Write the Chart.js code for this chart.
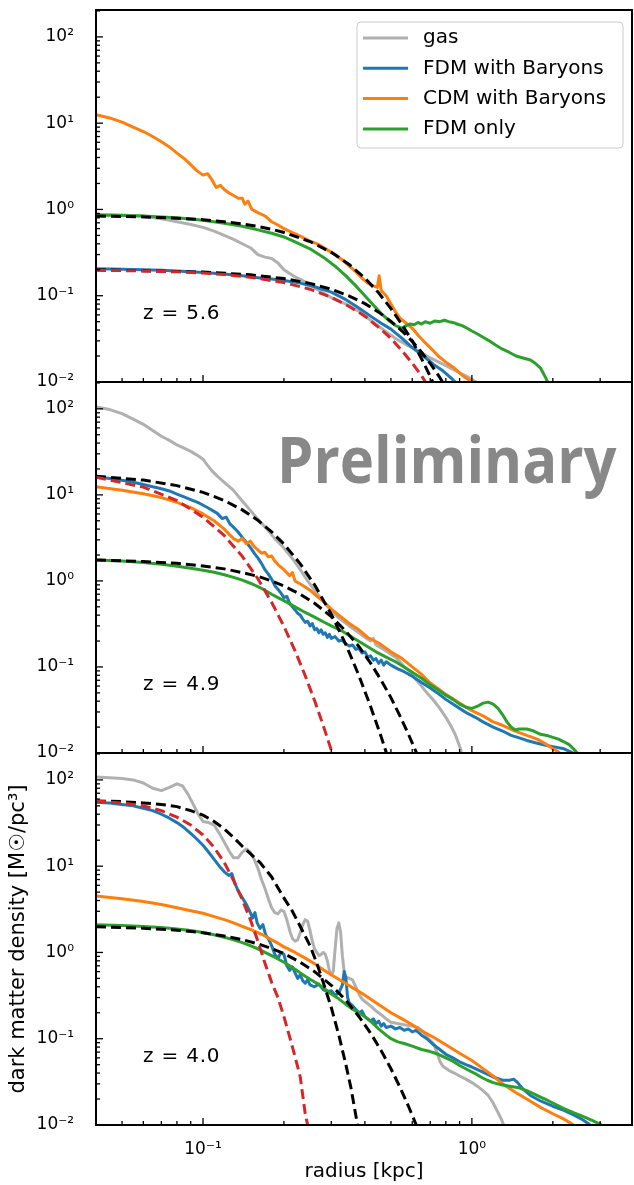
<!DOCTYPE html>
<html lang="en">
<head>
<meta charset="UTF-8">
<title>Dark matter density profiles</title>
<script src="https://cdn.jsdelivr.net/npm/chart.js"></script>
<style>
  html, body { margin: 0; padding: 0; background: #fff; }
  .wrap { position: relative; width: 634px; height: 1185px; overflow: hidden; }
  .wrap canvas { position: absolute; left: 0; }
</style>
</head>
<body>
<div class="wrap">
  <canvas id="p1" width="634" height="392" style="top:0;width:634px;height:392px"></canvas>
  <canvas id="p2" width="634" height="391" style="top:372px;width:634px;height:391px"></canvas>
  <canvas id="p3" width="634" height="442" style="top:743px;width:634px;height:442px"></canvas>
</div>
<script>
// labels and ticks
const seriesLabels = ['gas', 'FDM with Baryons', 'CDM with Baryons', 'FDM only'];
const redshifts = ['z = 5.6', 'z = 4.9', 'z = 4.0'];
const yTickValues = [0.01, 0.1, 1, 10, 100];
const yTickLabels = ['10⁻²', '10⁻¹', '10⁰', '10¹', '10²'];
const xTickValues = [0.1, 1];
const xTickLabels = ['10⁻¹', '10⁰'];

// ---- z = 5.6 : [radius kpc, density]
const gas56 = [[0.04,0.87],[0.05,0.86],[0.06,0.84],[0.07,0.78],[0.08,0.72],[0.09,0.67],[0.1,0.62],[0.11,0.56],[0.12,0.5],[0.13,0.45],[0.14,0.4],[0.15,0.36],[0.16,0.3],[0.17,0.28],[0.18,0.27],[0.19,0.24],[0.2,0.2],[0.22,0.165],[0.24,0.145],[0.27,0.115],[0.3,0.095],[0.34,0.08],[0.38,0.066],[0.42,0.052],[0.47,0.04],[0.52,0.032],[0.57,0.027],[0.62,0.024],[0.7,0.019],[0.8,0.0155],[0.9,0.0128],[1.0,0.0108],[1.06,0.0095]];
const fdmb56 = [[0.04,0.205],[0.05,0.203],[0.06,0.2],[0.07,0.197],[0.08,0.194],[0.09,0.19],[0.1,0.186],[0.12,0.178],[0.14,0.17],[0.16,0.162],[0.18,0.156],[0.2,0.15],[0.23,0.14],[0.26,0.127],[0.3,0.11],[0.34,0.09],[0.38,0.072],[0.42,0.058],[0.46,0.048],[0.5,0.041],[0.55,0.032],[0.6,0.025],[0.66,0.02],[0.72,0.016],[0.78,0.0135],[0.84,0.011],[0.88,0.0095]];
const cdmb56 = [[0.04,12.5],[0.045,11.5],[0.05,10.3],[0.055,9.0],[0.06,8.0],[0.065,7.0],[0.07,6.1],[0.075,5.3],[0.08,4.5],[0.085,3.9],[0.09,3.3],[0.095,2.8],[0.1,2.5],[0.104,2.6],[0.108,2.2],[0.112,1.8],[0.116,1.9],[0.12,1.7],[0.125,1.55],[0.13,1.45],[0.135,1.35],[0.14,1.35],[0.143,1.15],[0.147,1.25],[0.152,1.0],[0.16,0.92],[0.17,0.84],[0.18,0.72],[0.19,0.66],[0.2,0.6],[0.215,0.54],[0.23,0.49],[0.25,0.43],[0.27,0.39],[0.29,0.34],[0.31,0.3],[0.33,0.26],[0.35,0.22],[0.37,0.19],[0.39,0.16],[0.41,0.14],[0.43,0.13],[0.445,0.125],[0.452,0.17],[0.46,0.115],[0.48,0.1],[0.5,0.08],[0.52,0.065],[0.54,0.055],[0.57,0.048],[0.6,0.042],[0.63,0.035],[0.66,0.03],[0.7,0.025],[0.75,0.02],[0.8,0.017],[0.86,0.0145],[0.92,0.012],[0.98,0.0105],[1.03,0.0095]];
const fdm56 = [[0.04,0.86],[0.05,0.85],[0.06,0.84],[0.07,0.82],[0.08,0.8],[0.1,0.75],[0.12,0.69],[0.14,0.64],[0.16,0.58],[0.18,0.53],[0.2,0.48],[0.22,0.42],[0.25,0.35],[0.28,0.28],[0.31,0.22],[0.34,0.17],[0.37,0.13],[0.4,0.1],[0.43,0.078],[0.46,0.062],[0.49,0.052],[0.52,0.045],[0.55,0.042],[0.57,0.045],[0.59,0.047],[0.61,0.046],[0.63,0.049],[0.65,0.047],[0.67,0.05],[0.7,0.048],[0.73,0.051],[0.76,0.05],[0.79,0.052],[0.82,0.05],[0.85,0.049],[0.88,0.047],[0.92,0.045],[0.96,0.042],[1.0,0.039],[1.05,0.036],[1.1,0.033],[1.16,0.03],[1.22,0.027],[1.3,0.024],[1.38,0.022],[1.46,0.02],[1.55,0.019],[1.65,0.018],[1.72,0.0165],[1.8,0.0145],[1.86,0.012],[1.92,0.0098]];
const fitHi56 = [[0.04,0.84],[0.06,0.82],[0.08,0.79],[0.1,0.76],[0.12,0.72],[0.14,0.68],[0.16,0.635],[0.18,0.59],[0.2,0.54],[0.25,0.425],[0.3,0.318],[0.35,0.23],[0.4,0.16],[0.45,0.108],[0.5,0.071],[0.55,0.046],[0.6,0.03],[0.65,0.0186],[0.7,0.0116],[0.75,0.0072]];
const fitLo56 = [[0.04,0.2],[0.1,0.188],[0.15,0.175],[0.2,0.158],[0.25,0.139],[0.3,0.119],[0.35,0.099],[0.4,0.081],[0.45,0.0645],[0.5,0.0505],[0.55,0.039],[0.6,0.0296],[0.65,0.0221],[0.7,0.0164],[0.75,0.012],[0.8,0.0087]];
const core56 = [[0.04,0.197],[0.06,0.194],[0.08,0.189],[0.1,0.183],[0.12,0.176],[0.15,0.164],[0.2,0.142],[0.25,0.119],[0.3,0.096],[0.35,0.075],[0.4,0.058],[0.45,0.043],[0.5,0.032],[0.55,0.023],[0.6,0.0165],[0.65,0.0118],[0.7,0.0082]];

// ---- z = 4.9
const gas49 = [[0.04,105],[0.045,98],[0.05,88],[0.055,76],[0.06,66],[0.065,56],[0.07,48],[0.075,43],[0.08,38],[0.085,35],[0.09,32],[0.095,29],[0.1,26],[0.104,22],[0.108,19],[0.113,16.5],[0.12,14],[0.129,11.5],[0.14,8.5],[0.15,6.6],[0.16,5.2],[0.173,4.0],[0.185,3.1],[0.198,2.5],[0.21,2.0],[0.22,1.65],[0.23,1.35],[0.245,1.0],[0.26,0.78],[0.28,0.58],[0.3,0.45],[0.32,0.37],[0.35,0.3],[0.38,0.25],[0.41,0.21],[0.42,0.2],[0.43,0.215],[0.44,0.18],[0.47,0.16],[0.5,0.14],[0.52,0.13],[0.54,0.115],[0.56,0.1],[0.58,0.092],[0.6,0.08],[0.62,0.071],[0.65,0.06],[0.68,0.05],[0.72,0.041],[0.76,0.033],[0.8,0.026],[0.84,0.02],[0.87,0.016],[0.9,0.012],[0.92,0.0095]];
const fdmb49 = [[0.04,16.2],[0.045,15.5],[0.05,14.8],[0.055,14],[0.06,13.2],[0.065,12.4],[0.07,11.8],[0.075,11.1],[0.08,10.2],[0.085,9.5],[0.09,8.8],[0.097,8.0],[0.105,7.0],[0.113,6.1],[0.118,5.3],[0.122,5.5],[0.126,4.6],[0.13,4.2],[0.135,3.7],[0.14,3.2],[0.145,2.8],[0.15,2.45],[0.155,2.1],[0.16,1.85],[0.165,1.6],[0.17,1.35],[0.175,1.2],[0.18,1.05],[0.185,0.88],[0.19,0.8],[0.195,0.72],[0.2,0.64],[0.205,0.66],[0.21,0.55],[0.215,0.5],[0.22,0.46],[0.225,0.42],[0.23,0.4],[0.235,0.36],[0.24,0.33],[0.245,0.34],[0.25,0.3],[0.255,0.32],[0.26,0.27],[0.265,0.28],[0.27,0.25],[0.275,0.27],[0.28,0.24],[0.285,0.25],[0.29,0.22],[0.295,0.24],[0.3,0.215],[0.31,0.225],[0.32,0.2],[0.33,0.205],[0.34,0.185],[0.35,0.175],[0.36,0.18],[0.37,0.16],[0.38,0.165],[0.39,0.145],[0.4,0.15],[0.41,0.13],[0.42,0.135],[0.43,0.12],[0.44,0.125],[0.45,0.11],[0.46,0.12],[0.47,0.105],[0.48,0.115],[0.5,0.105],[0.53,0.095],[0.56,0.088],[0.6,0.078],[0.65,0.066],[0.7,0.057],[0.75,0.049],[0.8,0.042],[0.85,0.037],[0.9,0.033],[0.96,0.029],[1.03,0.026],[1.1,0.023],[1.2,0.02],[1.3,0.018],[1.4,0.016],[1.5,0.015],[1.6,0.014],[1.75,0.013],[1.9,0.0122],[2.05,0.0117],[2.2,0.0112],[2.35,0.0102],[2.45,0.0094]];
const cdmb49 = [[0.04,12.4],[0.05,11.3],[0.06,10.3],[0.07,9.3],[0.08,8.2],[0.09,7.1],[0.1,6.0],[0.11,5.0],[0.12,4.0],[0.125,3.5],[0.13,3.1],[0.135,2.9],[0.14,3.1],[0.145,2.7],[0.15,2.9],[0.155,2.5],[0.16,2.3],[0.165,2.1],[0.17,2.15],[0.175,1.9],[0.18,1.95],[0.185,1.7],[0.19,1.55],[0.2,1.35],[0.21,1.15],[0.215,1.25],[0.22,1.0],[0.23,0.92],[0.24,0.85],[0.25,0.78],[0.26,0.7],[0.28,0.58],[0.3,0.47],[0.32,0.4],[0.35,0.32],[0.38,0.27],[0.41,0.22],[0.45,0.19],[0.5,0.15],[0.55,0.125],[0.6,0.1],[0.65,0.082],[0.7,0.065],[0.75,0.056],[0.8,0.048],[0.9,0.038],[1.0,0.031],[1.1,0.027],[1.2,0.023],[1.3,0.021],[1.45,0.018],[1.6,0.016],[1.75,0.0145],[1.9,0.0125],[2.0,0.0112],[2.1,0.0103],[2.15,0.0095]];
const fdm49 = [[0.04,1.75],[0.05,1.7],[0.06,1.64],[0.07,1.56],[0.08,1.48],[0.09,1.4],[0.1,1.33],[0.11,1.26],[0.12,1.18],[0.13,1.1],[0.14,1.02],[0.15,0.94],[0.16,0.86],[0.17,0.78],[0.18,0.7],[0.19,0.64],[0.2,0.59],[0.22,0.5],[0.24,0.43],[0.26,0.38],[0.28,0.335],[0.3,0.3],[0.33,0.26],[0.36,0.22],[0.4,0.18],[0.44,0.15],[0.48,0.13],[0.52,0.115],[0.56,0.1],[0.6,0.087],[0.65,0.074],[0.7,0.062],[0.75,0.054],[0.8,0.047],[0.85,0.042],[0.9,0.037],[0.95,0.034],[1.0,0.033],[1.05,0.035],[1.1,0.038],[1.15,0.039],[1.2,0.037],[1.25,0.033],[1.3,0.028],[1.35,0.023],[1.4,0.02],[1.45,0.0185],[1.5,0.019],[1.6,0.019],[1.7,0.018],[1.8,0.0165],[1.9,0.016],[2.0,0.0152],[2.1,0.0145],[2.2,0.0135],[2.3,0.0125],[2.4,0.011],[2.5,0.0095]];
const fitHi49 = [[0.04,16.5],[0.06,14.85],[0.08,12.8],[0.1,10.7],[0.12,8.6],[0.14,6.69],[0.16,5.06],[0.18,3.72],[0.2,2.68],[0.23,1.58],[0.26,0.9],[0.3,0.41],[0.34,0.182],[0.38,0.0795],[0.42,0.0347],[0.46,0.0154],[0.48,0.0102],[0.5,0.0068]];
const fitLo49 = [[0.04,1.75],[0.06,1.68],[0.08,1.6],[0.1,1.49],[0.12,1.38],[0.14,1.25],[0.16,1.13],[0.18,1.0],[0.2,0.87],[0.23,0.7],[0.26,0.55],[0.3,0.385],[0.34,0.26],[0.38,0.173],[0.42,0.111],[0.46,0.07],[0.5,0.044],[0.54,0.027],[0.58,0.0167],[0.62,0.0103],[0.64,0.008]];
const core49 = [[0.04,16.0],[0.06,12.3],[0.08,8.6],[0.1,5.5],[0.12,3.36],[0.14,1.93],[0.16,1.06],[0.18,0.565],[0.2,0.296],[0.22,0.154],[0.24,0.079],[0.26,0.0407],[0.28,0.0209],[0.3,0.0108],[0.31,0.0078]];

// ---- z = 4.0
const gas40 = [[0.04,108],[0.045,106],[0.05,104],[0.055,100],[0.06,92],[0.065,80],[0.07,75],[0.075,82],[0.08,90],[0.084,85],[0.088,68],[0.092,52],[0.096,40],[0.1,33],[0.105,32],[0.11,30],[0.115,24],[0.12,19],[0.125,15],[0.13,12.5],[0.135,12.5],[0.14,14.5],[0.145,15.8],[0.15,14.5],[0.155,12],[0.16,9.5],[0.165,7],[0.17,5.5],[0.175,4.2],[0.18,3.3],[0.185,2.9],[0.19,2.8],[0.195,3.1],[0.2,3.0],[0.205,2.4],[0.21,1.8],[0.215,1.45],[0.22,1.35],[0.225,1.4],[0.23,1.7],[0.235,2.1],[0.24,2.4],[0.245,2.3],[0.25,1.8],[0.255,1.35],[0.26,1.1],[0.265,1.0],[0.27,0.92],[0.275,0.95],[0.28,1.0],[0.285,0.95],[0.29,0.8],[0.295,0.62],[0.3,0.55],[0.305,0.6],[0.31,1.1],[0.315,1.9],[0.32,2.2],[0.325,1.7],[0.33,0.9],[0.335,0.6],[0.34,0.52],[0.35,0.5],[0.36,0.48],[0.37,0.4],[0.38,0.33],[0.39,0.29],[0.4,0.27],[0.42,0.24],[0.44,0.21],[0.46,0.19],[0.48,0.17],[0.5,0.155],[0.53,0.15],[0.56,0.145],[0.6,0.14],[0.63,0.135],[0.66,0.12],[0.69,0.1],[0.72,0.088],[0.74,0.07],[0.76,0.055],[0.78,0.048],[0.82,0.043],[0.86,0.04],[0.9,0.037],[0.95,0.034],[1.0,0.031],[1.05,0.028],[1.1,0.025],[1.15,0.022],[1.2,0.018],[1.25,0.014],[1.29,0.0115],[1.32,0.0095]];
const fdmb40 = [[0.04,55],[0.045,54],[0.05,52],[0.055,50],[0.06,47],[0.065,44],[0.07,40],[0.075,36],[0.08,32],[0.085,28],[0.09,24],[0.095,20.5],[0.1,17.5],[0.105,14.5],[0.11,12],[0.115,10],[0.12,8.6],[0.125,7.8],[0.128,8.2],[0.131,6.5],[0.135,5.2],[0.14,4.3],[0.145,3.6],[0.15,2.9],[0.153,2.5],[0.156,2.9],[0.159,2.2],[0.163,1.9],[0.167,2.1],[0.171,1.6],[0.175,1.45],[0.18,1.2],[0.185,0.95],[0.19,0.85],[0.195,1.0],[0.2,0.95],[0.205,0.7],[0.21,0.62],[0.215,0.68],[0.22,0.58],[0.225,0.5],[0.23,0.55],[0.235,0.47],[0.24,0.44],[0.245,0.48],[0.25,0.42],[0.26,0.4],[0.27,0.43],[0.28,0.37],[0.29,0.35],[0.3,0.36],[0.31,0.32],[0.32,0.34],[0.33,0.42],[0.335,0.6],[0.34,0.5],[0.345,0.3],[0.35,0.26],[0.36,0.24],[0.37,0.22],[0.38,0.2],[0.39,0.21],[0.4,0.18],[0.41,0.17],[0.42,0.16],[0.43,0.17],[0.44,0.15],[0.45,0.16],[0.46,0.14],[0.47,0.15],[0.48,0.135],[0.5,0.14],[0.52,0.13],[0.54,0.135],[0.56,0.125],[0.58,0.13],[0.6,0.12],[0.62,0.125],[0.65,0.11],[0.68,0.1],[0.72,0.085],[0.76,0.075],[0.8,0.066],[0.85,0.06],[0.9,0.054],[0.95,0.05],[1.0,0.047],[1.1,0.041],[1.2,0.036],[1.3,0.033],[1.38,0.033],[1.43,0.034],[1.48,0.031],[1.55,0.026],[1.65,0.022],[1.8,0.019],[2.0,0.0165],[2.2,0.0148],[2.4,0.013],[2.55,0.0118],[2.7,0.0105],[2.8,0.0095]];
const cdmb40 = [[0.04,4.5],[0.05,4.2],[0.06,3.9],[0.07,3.6],[0.08,3.3],[0.09,3.05],[0.1,2.85],[0.11,2.6],[0.12,2.4],[0.13,2.2],[0.14,2.0],[0.15,1.85],[0.16,1.7],[0.17,1.55],[0.18,1.4],[0.19,1.28],[0.2,1.16],[0.22,1.0],[0.24,0.86],[0.26,0.74],[0.28,0.63],[0.3,0.55],[0.33,0.46],[0.36,0.39],[0.4,0.32],[0.45,0.25],[0.5,0.2],[0.55,0.17],[0.6,0.145],[0.66,0.12],[0.72,0.104],[0.8,0.085],[0.9,0.068],[1.0,0.056],[1.1,0.045],[1.2,0.037],[1.3,0.03],[1.45,0.024],[1.6,0.02],[1.8,0.016],[2.0,0.0135],[2.2,0.0117],[2.35,0.0103],[2.45,0.0095]];
const fdm40 = [[0.04,2.1],[0.05,2.05],[0.06,2.0],[0.07,1.94],[0.08,1.87],[0.09,1.8],[0.1,1.7],[0.11,1.6],[0.12,1.5],[0.13,1.4],[0.14,1.3],[0.15,1.2],[0.16,1.1],[0.17,1.0],[0.18,0.92],[0.19,0.84],[0.2,0.77],[0.21,0.7],[0.22,0.64],[0.23,0.58],[0.24,0.53],[0.25,0.49],[0.265,0.44],[0.28,0.39],[0.3,0.33],[0.32,0.29],[0.34,0.25],[0.36,0.22],[0.38,0.2],[0.4,0.18],[0.42,0.16],[0.45,0.13],[0.48,0.11],[0.5,0.1],[0.53,0.092],[0.56,0.088],[0.6,0.082],[0.65,0.075],[0.7,0.071],[0.75,0.066],[0.8,0.06],[0.85,0.055],[0.9,0.049],[0.96,0.044],[1.02,0.04],[1.08,0.036],[1.14,0.033],[1.2,0.031],[1.3,0.029],[1.4,0.028],[1.5,0.027],[1.6,0.025],[1.7,0.023],[1.8,0.021],[1.9,0.0195],[2.0,0.018],[2.2,0.0155],[2.4,0.0138],[2.6,0.0125],[2.8,0.0113],[2.98,0.0103],[3.1,0.0096]];
const fitHi40 = [[0.04,57],[0.05,56],[0.06,54],[0.07,52],[0.08,49],[0.09,44],[0.1,39],[0.11,33],[0.12,27],[0.13,21.5],[0.14,17],[0.15,14],[0.163,11],[0.18,7.5],[0.198,4.5],[0.215,3.0],[0.23,2.0],[0.25,1.2],[0.265,0.75],[0.28,0.45],[0.3,0.23],[0.32,0.11],[0.34,0.05],[0.355,0.027],[0.37,0.013],[0.38,0.008]];
const fitLo40 = [[0.04,1.99],[0.06,1.91],[0.08,1.81],[0.1,1.69],[0.12,1.55],[0.14,1.41],[0.16,1.26],[0.18,1.11],[0.2,0.97],[0.23,0.77],[0.26,0.6],[0.3,0.416],[0.34,0.279],[0.38,0.181],[0.42,0.116],[0.46,0.0727],[0.5,0.0449],[0.54,0.0275],[0.58,0.0167],[0.62,0.0101],[0.64,0.0079]];
const core40 = [[0.04,57],[0.05,54],[0.06,50],[0.07,44],[0.08,37],[0.09,30],[0.1,23],[0.11,16.5],[0.12,11],[0.13,6.8],[0.14,4.1],[0.15,2.4],[0.16,1.35],[0.17,0.75],[0.18,0.45],[0.19,0.3],[0.2,0.18],[0.21,0.105],[0.22,0.062],[0.23,0.036],[0.24,0.0135],[0.25,0.0075]];

const FONT = '"DejaVu Sans", sans-serif';
const colors = { gas: '#b0b0b0', fdmb: '#1f77b4', cdmb: '#ff7f0e', fdm: '#2ca02c', red: '#d62728', black: '#000000' };

function toXY(pts) { return pts.map(p => ({ x: p[0], y: p[1] })); }
function solid(label, color, pts, order) {
  return { label, data: toXY(pts), borderColor: color, borderWidth: 3, borderJoinStyle: 'round', order, clip: 0 };
}
function dashed(color, pts) {
  return { label: '', data: toXY(pts), borderColor: color, borderWidth: 3, borderDash: [10, 5], order: 0, clip: 0 };
}
function tickLabel(values, labels) {
  return (v) => {
    const i = values.findIndex(t => Math.abs(Math.log10(t) - Math.log10(v)) < 1e-6);
    return i < 0 ? '' : labels[i];
  };
}

// frame, inward ticks, redshift text, legend, watermark
const panelDecor = {
  id: 'panelDecor',
  afterDatasetsDraw(chart, args, opts) {
    const { ctx, chartArea: a, scales: { x, y } } = chart;
    ctx.save();
    ctx.strokeStyle = '#000';
    ctx.lineWidth = 1.3;
    for (let e = -2; e <= 2; e++) {
      for (let m = 1; m <= 9; m++) {
        const v = m * Math.pow(10, e);
        if (v < y.min || v > y.max) continue;
        const py = y.getPixelForValue(v);
        ctx.beginPath(); ctx.moveTo(a.left, py); ctx.lineTo(a.left + (m === 1 ? 7 : 4), py); ctx.stroke();
      }
    }
    for (let e = -2; e <= 0; e++) {
      for (let m = 1; m <= 9; m++) {
        const v = m * Math.pow(10, e);
        if (v <= x.min || v >= x.max) continue;
        const px = x.getPixelForValue(v);
        ctx.beginPath(); ctx.moveTo(px, a.bottom); ctx.lineTo(px, a.bottom - (m === 1 ? 7 : 4)); ctx.stroke();
      }
    }
    ctx.lineWidth = 2;
    ctx.strokeRect(a.left, a.top, a.right - a.left, a.bottom - a.top);

    ctx.fillStyle = '#000';
    ctx.font = '20px ' + FONT;
    ctx.textBaseline = 'middle';
    ctx.textAlign = 'left';
    ctx.letterSpacing = '0.8px';
    ctx.fillText(opts.zText, 143, a.bottom - 68);
    ctx.letterSpacing = '0px';

    if (opts.legend) {
      const bx = 357, by = a.top + 12, bw = 266, bh = 126;
      ctx.fillStyle = 'rgba(255,255,255,0.85)';
      ctx.strokeStyle = '#cccccc';
      ctx.lineWidth = 1;
      ctx.beginPath(); ctx.roundRect(bx, by, bw, bh, 4); ctx.fill(); ctx.stroke();
      const items = chart.data.datasets.filter(d => seriesLabels.includes(d.label))
        .sort((p, q) => seriesLabels.indexOf(p.label) - seriesLabels.indexOf(q.label));
      items.forEach((d, i) => {
        const ry = a.top + 28 + i * 30.3;
        ctx.strokeStyle = d.borderColor;
        ctx.lineWidth = 3;
        ctx.beginPath(); ctx.moveTo(363, ry); ctx.lineTo(408, ry); ctx.stroke();
        ctx.fillStyle = '#000';
        ctx.font = '20px ' + FONT;
        ctx.fillText(d.label, 423, ry);
      });
    }

    if (opts.watermark) {
      ctx.fillStyle = '#888888';
      ctx.font = 'bold 58px "Open Sans", "Noto Sans", sans-serif';
      ctx.textBaseline = 'alphabetic';
      ctx.translate(277, a.top + 101);
      ctx.scale(1, 1.1);
      ctx.fillText(opts.watermark, 0, 0);
    }
    ctx.restore();
  }
};

function makePanel(id, sets, idx) {
  const last = idx === 2;
  const datasets = [
    solid(seriesLabels[0], colors.gas, sets.gas, 4),
    solid(seriesLabels[1], colors.fdmb, sets.fdmb, 3),
    solid(seriesLabels[2], colors.cdmb, sets.cdmb, 2),
    solid(seriesLabels[3], colors.fdm, sets.fdm, 1),
    dashed(colors.red, sets.core),
    dashed(colors.black, sets.fitLo),
    dashed(colors.black, sets.fitHi)
  ];
  const tickFont = { family: FONT, size: 17 };
  new Chart(document.getElementById(id), {
    type: 'line',
    data: { datasets },
    options: {
      responsive: false,
      maintainAspectRatio: false,
      animation: false,
      devicePixelRatio: 1,
      layout: { padding: { top: 10, bottom: last ? 0 : 10, left: 0, right: 2 } },
      elements: { point: { radius: 0 }, line: { tension: 0 } },
      plugins: {
        legend: { display: false },
        tooltip: { enabled: false },
        panelDecor: { zText: redshifts[idx], legend: idx === 0, watermark: idx === 1 ? 'Preliminary' : '' }
      },
      scales: {
        x: {
          type: 'logarithmic', min: 0.04, max: 3.94,
          display: last,
          afterFit(s) { s.height = last ? 60 : 0; s.paddingLeft = 0; s.paddingRight = 0; },
          afterBuildTicks(s) { s.ticks = xTickValues.map(v => ({ value: v })); },
          grid: { display: false },
          border: { display: false },
          ticks: { padding: 6, maxRotation: 0, autoSkip: false, color: '#000', font: tickFont, callback: tickLabel(xTickValues, xTickLabels) },
          title: { display: true, text: 'radius [kpc]', color: '#000', font: { family: FONT, size: 20 }, padding: { top: 0, bottom: 1 } }
        },
        y: {
          type: 'logarithmic', min: 0.01, max: 205,
          afterFit(s) { s.width = 96; s.paddingTop = 0; s.paddingBottom = 0; },
          afterBuildTicks(s) { s.ticks = yTickValues.map(v => ({ value: v })); },
          grid: { display: false },
          border: { display: false },
          ticks: { padding: 14, autoSkip: false, color: '#000', font: tickFont, callback: tickLabel(yTickValues, yTickLabels) },
          title: { display: last, text: 'dark matter density [M☉/pc³]', color: '#000', font: { family: FONT, size: 21 }, padding: { top: 6, bottom: 0 } }
        }
      }
    },
    plugins: [panelDecor]
  });
}

makePanel('p1', { gas: gas56, fdmb: fdmb56, cdmb: cdmb56, fdm: fdm56, core: core56, fitLo: fitLo56, fitHi: fitHi56 }, 0);
makePanel('p2', { gas: gas49, fdmb: fdmb49, cdmb: cdmb49, fdm: fdm49, core: core49, fitLo: fitLo49, fitHi: fitHi49 }, 1);
makePanel('p3', { gas: gas40, fdmb: fdmb40, cdmb: cdmb40, fdm: fdm40, core: core40, fitLo: fitLo40, fitHi: fitHi40 }, 2);
</script>
</body>
</html>
